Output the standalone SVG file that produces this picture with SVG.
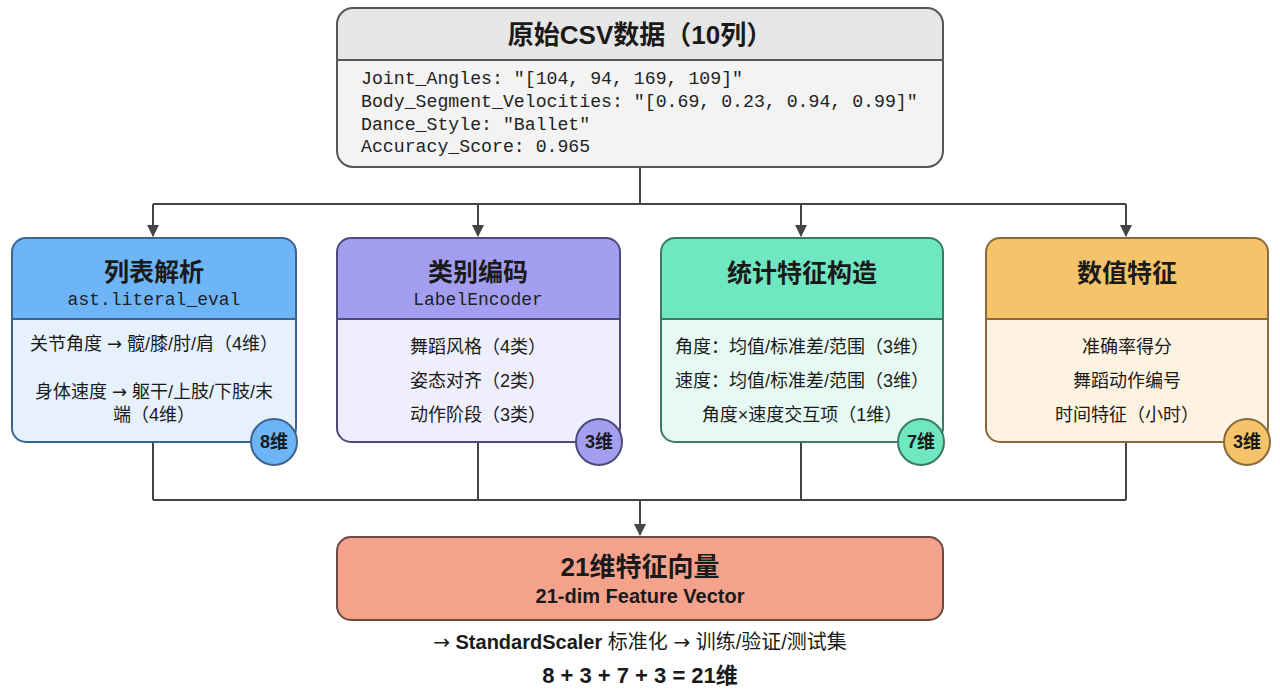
<svg xmlns="http://www.w3.org/2000/svg" width="1280" height="698" viewBox="0 0 1280 698">
<defs>
<style>
.cjk{font-family:"Liberation Sans","Noto Sans CJK SC",sans-serif;fill:#1a1a1a}
.mono{font-family:"Liberation Mono","Noto Sans CJK SC",monospace;fill:#222}
.ar{font-family:"DejaVu Sans",sans-serif}
.title{font-size:25px;font-weight:bold;text-anchor:middle}
.sub{font-size:18px;text-anchor:middle}
.body{font-size:18px;text-anchor:middle}
.badge{font-size:18px;font-weight:bold;text-anchor:middle}
.conn{stroke:#444;stroke-width:2;fill:none}
.border{stroke-width:2}
</style>
<marker id="arrow" viewBox="0 0 12 12" refX="11" refY="6" markerWidth="12" markerHeight="12" orient="auto" markerUnits="userSpaceOnUse">
<path d="M0,0 L12,6 L0,12 z" fill="#444"/>
</marker>
<clipPath id="c0"><rect x="337" y="8" width="606" height="159" rx="16"/></clipPath>
<clipPath id="c1"><rect x="12" y="238" width="284" height="204" rx="14"/></clipPath>
<clipPath id="c2"><rect x="337" y="238" width="283" height="204" rx="14"/></clipPath>
<clipPath id="c3"><rect x="661" y="238" width="282" height="204" rx="14"/></clipPath>
<clipPath id="c4"><rect x="986" y="238" width="282" height="204" rx="14"/></clipPath>
</defs>
<rect width="1280" height="698" fill="#ffffff"/>

<g id="connectors">
<path class="conn" d="M640,167 V204 M153,204 H1126"/>
<path class="conn" d="M153,204 V236" marker-end="url(#arrow)"/>
<path class="conn" d="M478,204 V236" marker-end="url(#arrow)"/>
<path class="conn" d="M801,204 V236" marker-end="url(#arrow)"/>
<path class="conn" d="M1126,204 V236" marker-end="url(#arrow)"/>
<path class="conn" d="M153,442 V500 M478,442 V500 M801,442 V500 M1126,442 V500 M153,500 H1126"/>
<path class="conn" d="M640,500 V535" marker-end="url(#arrow)"/>
</g>

<g id="raw-data">
<g clip-path="url(#c0)">
<rect x="337" y="8" width="606" height="159" fill="#f3f3f3"/>
<rect x="337" y="8" width="606" height="52" fill="#e6e6e6"/>
</g>
<line x1="337" y1="60" x2="943" y2="60" stroke="#555" stroke-width="2"/>
<rect x="337" y="8" width="606" height="159" rx="16" fill="none" stroke="#555" class="border"/>
<text x="640" y="44" class="cjk" font-size="26" font-weight="bold" text-anchor="middle">原始CSV数据（10列）</text>
<text class="mono" font-size="18.2" x="361">
<tspan x="361" y="84">Joint_Angles: "[104, 94, 169, 109]"</tspan>
<tspan x="361" y="107">Body_Segment_Velocities: "[0.69, 0.23, 0.94, 0.99]"</tspan>
<tspan x="361" y="130">Dance_Style: "Ballet"</tspan>
<tspan x="361" y="152">Accuracy_Score: 0.965</tspan>
</text>
</g>

<g id="list-parse">
<g clip-path="url(#c1)">
<rect x="12" y="238" width="284" height="204" fill="#e6f1fc"/>
<rect x="12" y="238" width="284" height="81" fill="#6db5f6"/>
</g>
<line x1="12" y1="319" x2="296" y2="319" stroke="#3b6590" stroke-width="2"/>
<rect x="12" y="238" width="284" height="204" rx="14" fill="none" stroke="#3b6590" class="border"/>
<text x="154" y="281" class="cjk title">列表解析</text>
<text x="154" y="305" class="mono sub">ast.literal_eval</text>
<text x="154" y="350" class="cjk body">关节角度 <tspan class="ar">→</tspan> 髋/膝/肘/肩（4维）</text>
<text x="154" y="398" class="cjk body">身体速度 <tspan class="ar">→</tspan> 躯干/上肢/下肢/末</text>
<text x="154" y="421" class="cjk body">端（4维）</text>
<circle cx="274" cy="442" r="23" fill="#6db5f6" stroke="#3b6590" stroke-width="2"/>
<text x="274" y="448" class="cjk badge">8维</text>
</g>

<g id="label-encode">
<g clip-path="url(#c2)">
<rect x="337" y="238" width="283" height="204" fill="#efeefc"/>
<rect x="337" y="238" width="283" height="81" fill="#a49ef1"/>
</g>
<line x1="337" y1="319" x2="620" y2="319" stroke="#4e4a7a" stroke-width="2"/>
<rect x="337" y="238" width="283" height="204" rx="14" fill="none" stroke="#4e4a7a" class="border"/>
<text x="478" y="281" class="cjk title">类别编码</text>
<text x="478" y="305" class="mono sub">LabelEncoder</text>
<text x="478" y="353" class="cjk body">舞蹈风格（4类）</text>
<text x="478" y="387" class="cjk body">姿态对齐（2类）</text>
<text x="478" y="421" class="cjk body">动作阶段（3类）</text>
<circle cx="599" cy="442" r="23" fill="#a49ef1" stroke="#4e4a7a" stroke-width="2"/>
<text x="599" y="448" class="cjk badge">3维</text>
</g>

<g id="stat-features">
<g clip-path="url(#c3)">
<rect x="661" y="238" width="282" height="204" fill="#e6faf3"/>
<rect x="661" y="238" width="282" height="81" fill="#6fe7c1"/>
</g>
<line x1="661" y1="319" x2="943" y2="319" stroke="#3c7a68" stroke-width="2"/>
<rect x="661" y="238" width="282" height="204" rx="14" fill="none" stroke="#3c7a68" class="border"/>
<text x="802" y="282" class="cjk title">统计特征构造</text>
<text x="802" y="353" class="cjk body">角度：均值/标准差/范围（3维）</text>
<text x="802" y="387" class="cjk body">速度：均值/标准差/范围（3维）</text>
<text x="802" y="421" class="cjk body">角度×速度交互项（1维）</text>
<circle cx="921" cy="442" r="23" fill="#6fe7c1" stroke="#3c7a68" stroke-width="2"/>
<text x="921" y="448" class="cjk badge">7维</text>
</g>

<g id="numeric-features">
<g clip-path="url(#c4)">
<rect x="986" y="238" width="282" height="204" fill="#fef3e1"/>
<rect x="986" y="238" width="282" height="81" fill="#f5c46a"/>
</g>
<line x1="986" y1="319" x2="1268" y2="319" stroke="#8a6a3a" stroke-width="2"/>
<rect x="986" y="238" width="282" height="204" rx="14" fill="none" stroke="#8a6a3a" class="border"/>
<text x="1127" y="282" class="cjk title">数值特征</text>
<text x="1127" y="353" class="cjk body">准确率得分</text>
<text x="1127" y="387" class="cjk body">舞蹈动作编号</text>
<text x="1127" y="421" class="cjk body">时间特征（小时）</text>
<circle cx="1247" cy="442" r="23" fill="#f5c46a" stroke="#8a6a3a" stroke-width="2"/>
<text x="1247" y="448" class="cjk badge">3维</text>
</g>

<g id="feature-vector">
<rect x="337" y="537" width="606" height="83" rx="14" fill="#f5a28c" stroke="#6a4a40" stroke-width="2"/>
<text x="640" y="576" class="cjk" font-size="26" font-weight="bold" text-anchor="middle">21维特征向量</text>
<text x="640" y="603" class="cjk" font-size="20" font-weight="bold" text-anchor="middle">21-dim Feature Vector</text>
</g>

<g id="notes">
<text x="640" y="649" class="cjk" font-size="20" text-anchor="middle"><tspan class="ar">→</tspan> <tspan font-weight="bold">StandardScaler</tspan> 标准化 <tspan class="ar">→</tspan> 训练/验证/测试集</text>
<text x="640" y="683" class="cjk" font-size="22" font-weight="bold" text-anchor="middle">8 + 3 + 7 + 3 = 21维</text>
</g>
</svg>
